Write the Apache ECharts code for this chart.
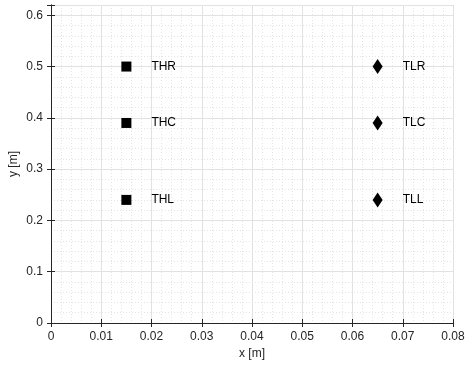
<!DOCTYPE html>
<html><head><meta charset="utf-8">
<script src="https://cdn.jsdelivr.net/npm/echarts@6/dist/echarts.min.js"></script>
<style>html,body{margin:0;padding:0;background:#fff}#c{width:470px;height:370px}</style>
</head><body><div id="c"></div>
<script>
const hNames = ['THR','THC','THL'];
const hX = [0.015, 0.015, 0.015];
const hY = [0.5, 0.39, 0.24];
const lNames = ['TLR','TLC','TLL'];
const lX = [0.065, 0.065, 0.065];
const lY = [0.5, 0.39, 0.24];
const xTicks = [0,0.01,0.02,0.03,0.04,0.05,0.06,0.07,0.08];
const yTicks = [0,0.1,0.2,0.3,0.4,0.5,0.6];

const font = 'Liberation Sans, Arial, sans-serif';
const axisCol = '#262626';
const chart = echarts.init(document.getElementById('c'));
const lbl = {show:true, position:'right', distance:20, color:'#000', fontFamily:font, fontSize:12, formatter:p=>p.data[2]};
const baseX = {type:'value', min:0, max:0.08, interval:0.01};
const baseY = {type:'value', min:0, max:0.62, interval:0.1};
chart.setOption({
  animation:false,
  grid:{left:51, right:17, top:5, bottom:47, show:false, containLabel:false, outerBoundsMode:'none'},
  xAxis:[
    Object.assign({}, baseX, {
      name:'x [m]', nameLocation:'middle', nameGap:25, nameMoveOverlap:false,
      nameTextStyle:{color:axisCol, fontFamily:font, fontSize:12},
      axisLine:{show:true, lineStyle:{color:axisCol, width:1}},
      axisTick:{show:true, inside:true, length:4, lineStyle:{color:axisCol}},
      axisLabel:{color:axisCol, fontFamily:font, fontSize:12, margin:8, formatter:v=>xTicks.includes(+v.toFixed(3))?String(+v.toFixed(2)):''},
      splitLine:{show:true, lineStyle:{color:'#e2e2e2', width:1}},
      minorTick:{show:false, splitNumber:5},
      minorSplitLine:{show:true, lineStyle:{color:'#e4e4e4', type:[1,2], width:1}}
    }),
    Object.assign({}, baseX, {
      position:'top', axisLine:{show:true, lineStyle:{color:axisCol}},
      axisTick:{show:true, inside:true, length:4, lineStyle:{color:axisCol}},
      axisLabel:{show:false}, splitLine:{show:false}
    })
  ],
  yAxis:[
    Object.assign({}, baseY, {
      name:'y [m]', nameLocation:'middle', nameGap:31, nameMoveOverlap:false,
      nameTextStyle:{color:axisCol, fontFamily:font, fontSize:12},
      axisLine:{show:true, lineStyle:{color:axisCol, width:1}},
      axisTick:{show:true, inside:true, length:4, lineStyle:{color:axisCol}},
      axisLabel:{color:axisCol, fontFamily:font, fontSize:12, margin:8, formatter:v=>{const r=+v.toFixed(2); return yTicks.includes(r)?String(r):'';}},
      splitLine:{show:true, lineStyle:{color:'#e2e2e2', width:1}},
      minorTick:{show:false, splitNumber:5},
      minorSplitLine:{show:true, lineStyle:{color:'#e4e4e4', type:[1,2], width:1}}
    }),
    Object.assign({}, baseY, {
      position:'right', axisLine:{show:true, lineStyle:{color:axisCol}},
      axisTick:{show:true, inside:true, length:4, lineStyle:{color:axisCol}},
      axisLabel:{show:false}, splitLine:{show:false}
    })
  ],
  series:[
    {type:'scatter', symbol:'rect', symbolSize:10, itemStyle:{color:'#000', opacity:1},
     data:hX.map((x,i)=>[x,hY[i],hNames[i]]), label:lbl},
    {type:'scatter', symbol:'diamond', symbolSize:[10,15], itemStyle:{color:'#000', opacity:1},
     data:lX.map((x,i)=>[x,lY[i],lNames[i]]), label:lbl}
  ]
});
</script></body></html>
